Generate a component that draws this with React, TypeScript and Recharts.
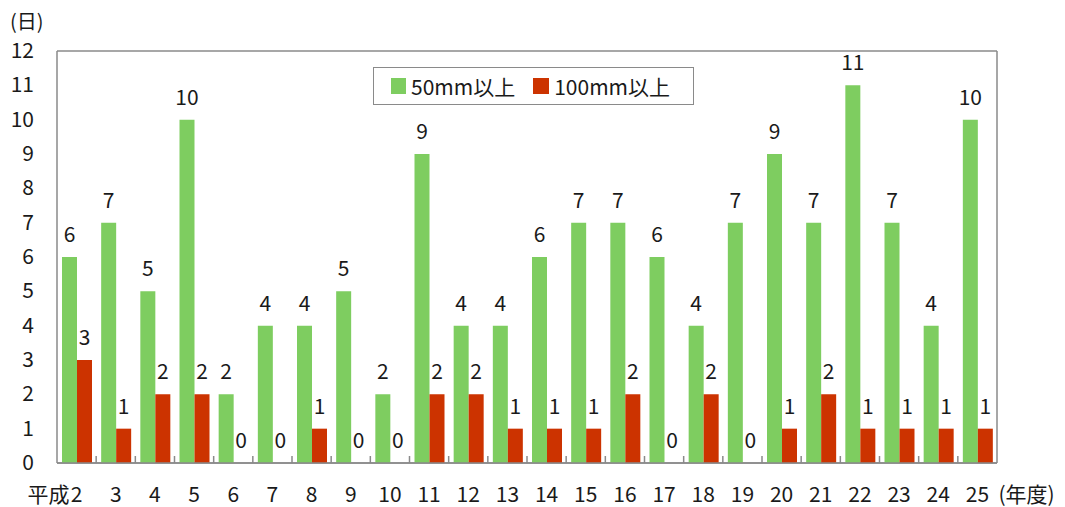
import React from "react";
import {
  BarChart,
  Bar,
  XAxis,
  YAxis,
  CartesianGrid,
  LabelList,
} from "recharts";

const years = ["2", "3", "4", "5", "6", "7", "8", "9", "10", "11", "12", "13", "14", "15", "16", "17", "18", "19", "20", "21", "22", "23", "24", "25"];
const over50 = [6, 7, 5, 10, 2, 4, 4, 5, 2, 9, 4, 4, 6, 7, 7, 6, 4, 7, 9, 7, 11, 7, 4, 10];
const over100 = [3, 1, 2, 2, 0, 0, 1, 0, 0, 2, 2, 1, 1, 1, 2, 0, 2, 0, 1, 2, 1, 1, 1, 1];
const yTicks = [0, 1, 2, 3, 4, 5, 6, 7, 8, 9, 10, 11, 12];

const data = years.map((y, i) => ({ year: y, a: over50[i], b: over100[i] }));

const FONT = "'Noto Sans CJK JP', 'Noto Sans', sans-serif";
const GREEN = "#7ECD60";
const RED = "#CC3300";
const GRID = "#8a8a8a";
const TXT = "#1a1a1a";

const XTick = (props: any) => {
  const { x, y, payload, index, visibleTicksCount } = props;
  const half = 940 / 24 / 2;
  const last = index === (visibleTicksCount ?? 24) - 1;
  return (
    <g>
      {!last && (
        <line x1={x + half} x2={x + half} y1={y} y2={y - 7} stroke={GRID} strokeWidth={1.5} />
      )}
      <text x={x} y={y + 39} textAnchor="middle" fontSize={21} fill={TXT} fontFamily={FONT}>
        {payload.value}
      </text>
      {index === 0 && (
        <text x={x - 7} y={y + 39} textAnchor="end" fontSize={21} fill={TXT} fontFamily={FONT}>
          平成
        </text>
      )}
      {last && (
        <text x={x + 21} y={y + 39} textAnchor="start" fontSize={21} fill={TXT} fontFamily={FONT}>
          (年度)
        </text>
      )}
    </g>
  );
};

const YTick = (props: any) => {
  const { x, y, payload } = props;
  return (
    <g>
      <text x={x - 23} y={y + 7} textAnchor="end" fontSize={21} fill={TXT} fontFamily={FONT}>
        {payload.value}
      </text>
      {payload.value === 12 && (
        <text x={10} y={y - 22} textAnchor="start" fontSize={20} fill={TXT} fontFamily={FONT}>
          (日)
        </text>
      )}
    </g>
  );
};

const BarLabel = (props: any) => {
  const { x, y, width, value } = props;
  return (
    <text x={x + width / 2} y={y - 15} textAnchor="middle" fontSize={21} fill={TXT} fontFamily={FONT}>
      {String(value)}
    </text>
  );
};

const LegendBox = () => (
  <div
    style={{
      position: "absolute",
      left: 373,
      top: 67,
      boxSizing: "border-box",
      width: 321,
      height: 38,
      border: `1.5px solid ${GRID}`,
      background: "#fff",
      display: "flex",
      alignItems: "center",
      paddingLeft: 17,
      fontFamily: FONT,
      fontSize: 21,
      color: TXT,
    }}
  >
    <span style={{ width: 15, height: 16, background: GREEN, marginRight: 5 }} />
    <span>50mm以上</span>
    <span style={{ width: 16, height: 16, background: RED, marginLeft: 18, marginRight: 5 }} />
    <span>100mm以上</span>
  </div>
);

export default function App() {
  return (
    <div style={{ position: "relative", width: 1065, height: 507, margin: "-8px 0 0 -8px" }}>
      <BarChart
        width={1065}
        height={507}
        data={data}
        margin={{ top: 51, right: 67, bottom: 14, left: 0 }}
        barGap={0}
      >
        <CartesianGrid horizontal vertical={false} stroke={GRID} strokeWidth={1.5} />
        <XAxis
          dataKey="year"
          interval={0}
          height={30}
          tickLine={false}
          tickSize={0}
          tickMargin={0}
          axisLine={{ stroke: GRID, strokeWidth: 1.5 }}
          tick={<XTick />}
        />
        <YAxis
          yAxisId="l"
          domain={[0, 12]}
          ticks={yTicks}
          interval={0}
          width={57}
          tickLine={false}
          tickSize={0}
          tickMargin={0}
          axisLine={{ stroke: GRID, strokeWidth: 1.5 }}
          tick={<YTick />}
        />
        <YAxis
          yAxisId="r"
          orientation="right"
          domain={[0, 12]}
          width={1}
          tick={false}
          tickLine={false}
          axisLine={{ stroke: GRID, strokeWidth: 1.5 }}
        />
        <Bar yAxisId="l" dataKey="a" name="50mm以上" fill={GREEN} barSize={15} minPointSize={0.01} isAnimationActive={false}>
          <LabelList dataKey="a" content={<BarLabel />} />
        </Bar>
        <Bar yAxisId="l" dataKey="b" name="100mm以上" fill={RED} barSize={15} minPointSize={0.01} isAnimationActive={false}>
          <LabelList dataKey="b" content={<BarLabel />} />
        </Bar>
      </BarChart>
      <LegendBox />
    </div>
  );
}
